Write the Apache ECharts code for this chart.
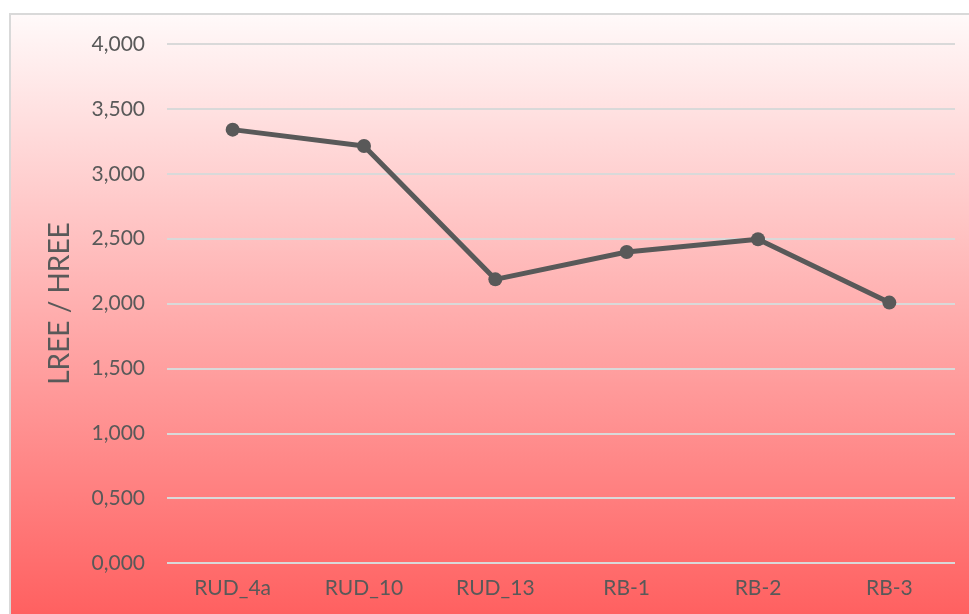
<!DOCTYPE html>
<html>
<head>
<meta charset="utf-8">
<script src="https://cdn.jsdelivr.net/npm/echarts@6/dist/echarts.min.js"></script>
<style>
  html, body { margin: 0; padding: 0; background: #ffffff; }
  #chart { width: 969px; height: 614px; }
</style>
</head>
<body>
<div id="chart"></div>
<script>
// Sample names along the x axis
const categories = ['RUD_4a', 'RUD_10', 'RUD_13', 'RB-1', 'RB-2', 'RB-3'];
// LREE / HREE ratio per sample
const ratioValues = [3.340, 3.214, 2.186, 2.397, 2.495, 2.007];
// Value axis range and step
const yMin = 0;
const yMax = 4;
const yStep = 0.5;

const textColor = '#595959';
const fontFamily = 'Lato, "Open Sans", sans-serif';

const chart = echarts.init(document.getElementById('chart'), null, { renderer: 'canvas' });

chart.setOption({
  animation: false,
  backgroundColor: '#ffffff',
  graphic: [{
    type: 'rect',
    z: -10,
    silent: true,
    shape: { x: 10, y: 14, width: 980, height: 620 },
    style: {
      fill: new echarts.graphic.LinearGradient(0, 0, 0, 1, [
        { offset: 0, color: '#fffafa' },
        { offset: 1, color: '#ff5b5b' }
      ]),
      stroke: '#d9d9d9',
      lineWidth: 2
    }
  }],
  grid: { left: 167, right: 14, top: 44, bottom: 51, containLabel: false },
  xAxis: {
    type: 'category',
    data: categories,
    boundaryGap: true,
    axisLine: { show: false },
    axisTick: { show: false },
    axisLabel: {
      color: textColor,
      fontFamily: fontFamily,
      fontSize: 21,
      margin: 15
    },
    splitLine: { show: false }
  },
  yAxis: {
    type: 'value',
    min: yMin,
    max: yMax,
    interval: yStep,
    name: 'LREE / HREE',
    nameLocation: 'middle',
    nameGap: 93,
    nameRotate: 90,
    nameTextStyle: {
      color: textColor,
      fontFamily: fontFamily,
      fontSize: 28
    },
    axisLine: { show: false },
    axisTick: { show: false },
    axisLabel: {
      color: textColor,
      fontFamily: fontFamily,
      fontSize: 21,
      margin: 22,
      formatter: v => v.toFixed(3).replace('.', ',')
    },
    splitLine: { lineStyle: { color: '#d9d9d9', width: 2 } }
  },
  series: [{
    type: 'line',
    data: ratioValues,
    symbol: 'circle',
    symbolSize: 14,
    lineStyle: { color: '#595959', width: 5 },
    itemStyle: { color: '#595959' }
  }]
});
</script>
</body>
</html>
